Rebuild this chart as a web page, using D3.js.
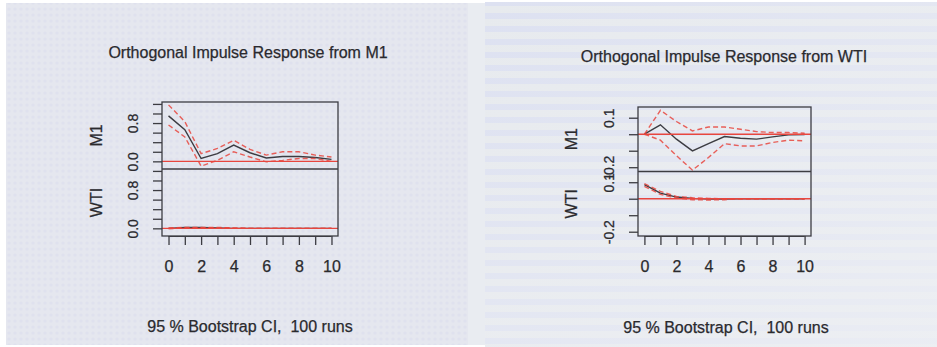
<!DOCTYPE html>
<html>
<head>
<meta charset="utf-8">
<script src="https://cdn.jsdelivr.net/npm/d3@7"></script>
<style>
  body { margin: 0; background: #fff; }
  svg { display: block; }
  text { font-family: "Liberation Sans", Arial, sans-serif; fill: #2a2a2e; stroke: #2a2a2e; stroke-width: 0.25px; }
</style>
</head>
<body>
<svg id="chart" width="937" height="347"></svg>
<script>
// horizon steps and axis labels
const steps = [0, 1, 2, 3, 4, 5, 6, 7, 8, 9, 10];
const xLabelSteps = [0, 2, 4, 6, 8, 10];
const responseNames = ["M1", "WTI"];

// impulse from M1
const m1ToM1 = [0.95, 0.66, 0.06, 0.16, 0.34, 0.18, 0.07, 0.10, 0.10, 0.08, 0.04];
const m1ToM1Upper = [1.18, 0.83, 0.16, 0.27, 0.44, 0.25, 0.13, 0.20, 0.20, 0.13, 0.09];
const m1ToM1Lower = [0.76, 0.51, -0.10, 0.02, 0.20, 0.09, -0.01, 0.02, 0.06, 0.06, 0.00];
const m1ToWti = [0.00, 0.02, 0.02, 0.01, 0.00, 0.00, 0.00, 0.00, 0.00, 0.00, 0.00];
const m1ToWtiUpper = [0.01, 0.02, 0.02, 0.02, 0.01, 0.00, 0.00, 0.00, 0.00, 0.00, 0.00];
const m1ToWtiLower = [-0.01, 0.01, 0.01, 0.01, 0.00, 0.00, 0.00, 0.00, 0.00, 0.00, 0.00];
const m1YTicks = [0, 0.2, 0.4, 0.6, 0.8, 1.0, 1.2];
const m1YLabels = [0, 0.8];

// impulse from WTI
const wtiToM1 = [0.000, 0.057, -0.030, -0.101, -0.057, -0.014, -0.024, -0.030, -0.016, -0.004, -0.002];
const wtiToM1Upper = [0.000, 0.145, 0.077, 0.020, 0.044, 0.044, 0.030, 0.016, 0.010, 0.010, 0.006];
const wtiToM1Lower = [0.000, -0.036, -0.130, -0.218, -0.141, -0.057, -0.071, -0.071, -0.050, -0.036, -0.040];
const wtiToWti = [0.085, 0.034, 0.010, 0.002, -0.002, -0.002, 0.000, 0.000, 0.000, 0.000, 0.000];
const wtiToWtiUpper = [0.091, 0.044, 0.014, 0.006, 0.002, 0.000, 0.000, 0.000, 0.000, 0.000, 0.000];
const wtiToWtiLower = [0.075, 0.026, 0.004, -0.006, -0.008, -0.006, 0.000, 0.000, 0.000, 0.000, 0.000];
const wtiYTicks = [-0.2, -0.1, 0, 0.1];
const wtiYLabels = [-0.2, 0.1];

const svg = d3.select("#chart");
const defs = svg.append("defs");

// photo backgrounds (screen moire)
const dots = defs.append("pattern").attr("id", "dots")
  .attr("width", 6).attr("height", 6).attr("patternUnits", "userSpaceOnUse");
dots.append("rect").attr("width", 6).attr("height", 6).attr("fill", "#e5e7ef");
dots.append("circle").attr("cx", 3).attr("cy", 3).attr("r", 1.6).attr("fill", "#dfe1ee");

const stripes = defs.append("pattern").attr("id", "stripes")
  .attr("width", 13).attr("height", 13).attr("patternUnits", "userSpaceOnUse");
stripes.append("rect").attr("width", 13).attr("height", 13).attr("fill", "#e7eaee");
stripes.append("rect").attr("width", 13).attr("height", 6).attr("fill", "#dde1f1");

const fade = defs.append("linearGradient").attr("id", "fade")
  .attr("x1", 0).attr("y1", 0).attr("x2", 1).attr("y2", 1);
fade.append("stop").attr("offset", "0%").attr("stop-color", "#eef0f4").attr("stop-opacity", 0);
fade.append("stop").attr("offset", "100%").attr("stop-color", "#eef0f4").attr("stop-opacity", 0.8);

svg.append("rect").attr("x", 6).attr("y", 3).attr("width", 462).attr("height", 342).attr("fill", "url(#dots)");
svg.append("rect").attr("x", 468).attr("y", 3).attr("width", 17).attr("height", 342).attr("fill", "#e9ecf1");
svg.append("rect").attr("x", 485).attr("y", 2).attr("width", 452).attr("height", 345).attr("fill", "url(#stripes)");
svg.append("rect").attr("x", 485).attr("y", 2).attr("width", 452).attr("height", 345).attr("fill", "url(#fade)");

const charts = [
  {
    title: "Orthogonal Impulse Response from M1",
    left: 162, right: 338, top: 102, mid: 169, bottom: 236, ylim: [-0.16, 1.24],
    yTicks: m1YTicks, yLabels: m1YLabels, titleX: 248, titleY: 58, subY: 332, nameX: 102,
    panels: [
      { irf: m1ToM1, upper: m1ToM1Upper, lower: m1ToM1Lower },
      { irf: m1ToWti, upper: m1ToWtiUpper, lower: m1ToWtiLower }
    ]
  },
  {
    title: "Orthogonal Impulse Response from WTI",
    left: 638, right: 811, top: 107, mid: 171.5, bottom: 236, ylim: [-0.226, 0.165],
    yTicks: wtiYTicks, yLabels: wtiYLabels, titleX: 724, titleY: 62, subY: 333, nameX: 577,
    panels: [
      { irf: wtiToM1, upper: wtiToM1Upper, lower: wtiToM1Lower },
      { irf: wtiToWti, upper: wtiToWtiUpper, lower: wtiToWtiLower }
    ]
  }
];

const red = "#e8463e";
const dark = "#3c3c42";

charts.forEach(c => {
  const g = svg.append("g");
  const pad = 0.04 * 10;
  const x = d3.scaleLinear().domain([-pad, 10 + pad]).range([c.left, c.right]);

  g.append("text").attr("x", c.titleX).attr("y", c.titleY)
    .attr("text-anchor", "middle").style("font-size", "16px").text(c.title);
  g.append("text").attr("x", c.titleX + 2).attr("y", c.subY)
    .attr("text-anchor", "middle").style("font-size", "16px").style("white-space", "pre")
    .text("95 % Bootstrap CI,  100 runs");

  const bands = [[c.top, c.mid], [c.mid, c.bottom]];
  c.panels.forEach((p, i) => {
    const [y0, y1] = bands[i];
    const y = d3.scaleLinear().domain(c.ylim).range([y1, y0]);
    const line = d3.line().x((d, k) => x(steps[k])).y(d => y(d));

    g.append("path").datum(p.irf).attr("d", line)
      .attr("fill", "none").attr("stroke", dark).attr("stroke-width", 1.4);
    [p.upper, p.lower].forEach(b => {
      g.append("path").datum(b).attr("d", line)
        .attr("fill", "none").attr("stroke", red).attr("stroke-opacity", 0.85)
        .attr("stroke-width", 1.4).attr("stroke-dasharray", "5,3");
    });
    g.append("line").attr("x1", c.left).attr("x2", c.right)
      .attr("y1", y(0)).attr("y2", y(0)).attr("stroke", red).attr("stroke-width", 1.4);

    const ax = g.append("g").attr("transform", `translate(${c.left},0)`)
      .call(d3.axisLeft(y).tickValues(c.yTicks).tickSize(9).tickPadding(0)
        .tickFormat(v => c.yLabels.includes(v) ? d3.format(".1f")(v).replace("\u2212", "-") : ""));
    ax.select(".domain").remove();
    ax.selectAll("line").attr("stroke", dark).attr("stroke-width", 1.3);
    ax.selectAll("text").attr("transform", "rotate(-90)")
      .attr("x", 0).attr("y", -24).attr("dy", 0)
      .attr("text-anchor", "middle").style("font-size", "14px").attr("fill", "#2a2a2e");

    g.append("text").attr("transform", `translate(${c.nameX},${(y0 + y1) / 2}) rotate(-90)`)
      .attr("text-anchor", "middle").style("font-size", "16px").text(responseNames[i]);
  });

  g.append("rect").attr("x", c.left).attr("y", c.top)
    .attr("width", c.right - c.left).attr("height", c.bottom - c.top)
    .attr("fill", "none").attr("stroke", dark).attr("stroke-width", 1.3);
  g.append("line").attr("x1", c.left).attr("x2", c.right)
    .attr("y1", c.mid).attr("y2", c.mid).attr("stroke", dark).attr("stroke-width", 1.3);

  const xa = g.append("g").attr("transform", `translate(0,${c.bottom})`)
    .call(d3.axisBottom(x).tickValues(steps).tickSize(9)
      .tickFormat(v => xLabelSteps.includes(v) ? String(v) : ""));
  xa.select(".domain").attr("d", `M${x(0)},0.5H${x(10)}`).attr("stroke", dark);
  xa.selectAll("line").attr("stroke", dark).attr("stroke-width", 1.3);
  xa.selectAll("text").attr("y", 25).style("font-size", "16px").attr("fill", "#2a2a2e");
});
</script>
</body>
</html>
